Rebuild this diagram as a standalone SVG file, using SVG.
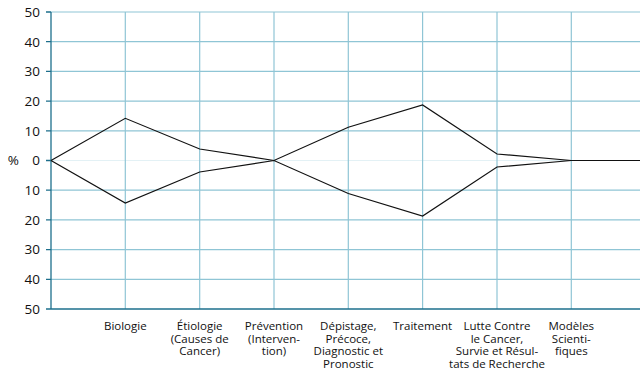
<svg xmlns="http://www.w3.org/2000/svg" width="640" height="377" viewBox="0 0 640 377">
  <style>
    .grid { stroke: #8fc5d5; stroke-width: 1.2; fill: none; }
    .zero { stroke: #e3f1f5; stroke-width: 1.2; }
    .axis { stroke: #1d6f8c; stroke-width: 1.3; fill: none; }
    .data { stroke: #111; stroke-width: 1.2; fill: none; stroke-linejoin: miter; }
    .ytick { font-family: "Open Sans", "Liberation Sans", sans-serif; font-size: 13.5px; fill: #111; text-anchor: end; }
    .cat { font-family: "Open Sans", "Liberation Sans", sans-serif; font-size: 11.5px; fill: #111; text-anchor: middle; }
  </style>
  <rect width="640" height="377" fill="#fff"/>

  <!-- horizontal grid lines, 10% apart -->
  <g id="hgrid" class="grid">
    <line x1="51" y1="12" x2="640" y2="12"/>
    <line x1="51" y1="41.7" x2="640" y2="41.7"/>
    <line x1="51" y1="71.4" x2="640" y2="71.4"/>
    <line x1="51" y1="101.1" x2="640" y2="101.1"/>
    <line x1="51" y1="130.8" x2="640" y2="130.8"/>
    <line x1="51" y1="190.2" x2="640" y2="190.2"/>
    <line x1="51" y1="219.9" x2="640" y2="219.9"/>
    <line x1="51" y1="249.6" x2="640" y2="249.6"/>
    <line x1="51" y1="279.3" x2="640" y2="279.3"/>
  </g>
  <line class="zero" x1="51" y1="160.5" x2="640" y2="160.5"/>

  <!-- vertical grid lines, one per category -->
  <g id="vgrid" class="grid">
    <line x1="125.3" y1="12" x2="125.3" y2="309"/>
    <line x1="199.7" y1="12" x2="199.7" y2="309"/>
    <line x1="274" y1="12" x2="274" y2="309"/>
    <line x1="348.3" y1="12" x2="348.3" y2="309"/>
    <line x1="422.6" y1="12" x2="422.6" y2="309"/>
    <line x1="497" y1="12" x2="497" y2="309"/>
    <line x1="571.3" y1="12" x2="571.3" y2="309"/>
  </g>

  <!-- axes and ticks -->
  <g id="axes" class="axis">
    <line x1="51" y1="12" x2="51" y2="309"/>
    <line x1="46" y1="309" x2="640" y2="309"/>
    <path d="M46 12H51M46 41.7H51M46 71.4H51M46 101.1H51M46 130.8H51M46 160.5H51M46 190.2H51M46 219.9H51M46 249.6H51M46 279.3H51"/>
  </g>

  <g id="ylabels" class="ytick">
    <text x="40" y="17">50</text>
    <text x="40" y="46.5">40</text>
    <text x="40" y="76.2">30</text>
    <text x="40" y="105.9">20</text>
    <text x="40" y="135.6">10</text>
    <text x="40" y="165.3">0</text>
    <text x="40" y="195">10</text>
    <text x="40" y="224.7">20</text>
    <text x="40" y="254.4">30</text>
    <text x="40" y="284.1">40</text>
    <text x="40" y="313.8">50</text>
    <text x="19" y="165.3">%</text>
  </g>

  <!-- mirrored profile -->
  <g id="profile" class="data">
    <polyline points="51,160.5 125.3,118.3 199.7,149 274,160.5 348.3,127.3 422.6,105 497,154 571.3,160.5 640,160.5"/>
    <polyline points="51,160.5 125.3,203 199.7,172 274,160.5 348.3,193.5 422.6,216 497,167 571.3,160.5 640,160.5"/>
  </g>

  <!-- category labels -->
  <g id="categories" class="cat">
    <text x="125.3" y="330">Biologie</text>
    <text x="199.7" y="330">Étiologie</text>
    <text x="199.7" y="342.7">(Causes de</text>
    <text x="199.7" y="355.4">Cancer)</text>
    <text x="274" y="330">Prévention</text>
    <text x="274" y="342.7">(Interven-</text>
    <text x="274" y="355.4">tion)</text>
    <text x="348.3" y="330">Dépistage,</text>
    <text x="348.3" y="342.7">Précoce,</text>
    <text x="348.3" y="355.4">Diagnostic et</text>
    <text x="348.3" y="368.1">Pronostic</text>
    <text x="422.6" y="330">Traitement</text>
    <text x="497" y="330">Lutte Contre</text>
    <text x="497" y="342.7">le Cancer,</text>
    <text x="497" y="355.4">Survie et Résul-</text>
    <text x="497" y="368.1">tats de Recherche</text>
    <text x="571.3" y="330">Modèles</text>
    <text x="571.3" y="342.7">Scienti-</text>
    <text x="571.3" y="355.4">fiques</text>
  </g>
</svg>
